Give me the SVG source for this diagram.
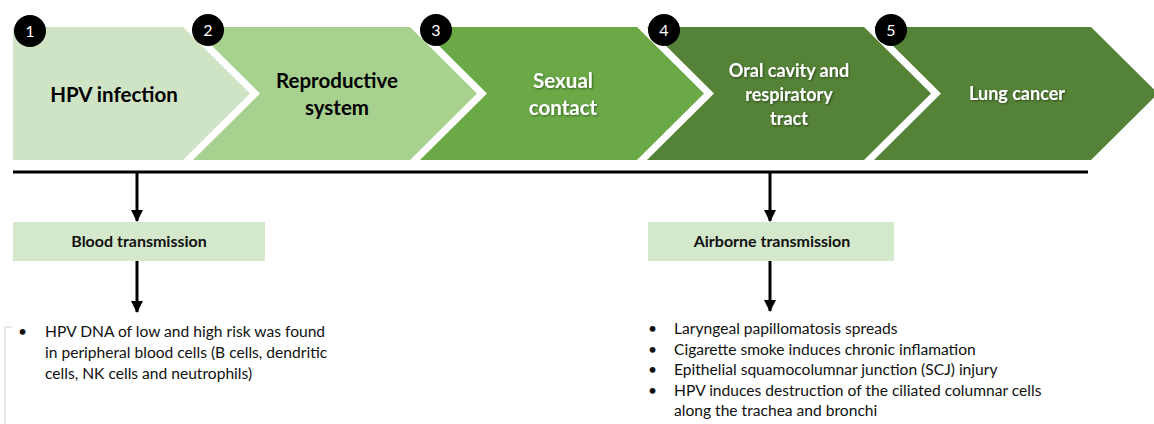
<svg xmlns="http://www.w3.org/2000/svg" width="1154" height="424" viewBox="0 0 1154 424">
<defs>
<marker id="ah" viewBox="0 0 12 12" refX="11" refY="6" markerWidth="12" markerHeight="12" markerUnits="userSpaceOnUse" orient="auto">
<path d="M0,0 L12,6 L0,12 Z" fill="#000"/>
</marker>
<filter id="sh" x="-10%" y="-20%" width="130%" height="150%">
<feDropShadow dx="1" dy="1" stdDeviation="0.8" flood-color="#000" flood-opacity="0.45"/>
</filter>
</defs>
<style>
.lbl{font-family:Lato,"Open Sans","Liberation Sans",sans-serif;font-weight:bold;text-anchor:middle}
.dk{fill:#000}
.wt{fill:#fff;filter:url(#sh)}
.num{font-family:Lato,"Open Sans","Liberation Sans",sans-serif;font-size:16px;fill:#fff;text-anchor:middle}
.box{fill:#d4e8cb}
.btxt{font-family:Lato,"Open Sans","Liberation Sans",sans-serif;font-size:16px;font-weight:bold;fill:#111;text-anchor:middle}
.body{font-family:Lato,"Open Sans","Liberation Sans",sans-serif;font-size:15.6px;fill:#111}
.conn{stroke:#000;stroke-width:3;fill:none}
</style>
<rect width="1154" height="424" fill="#fff"/>
<path d="M5,425 L5,327 L12,327" fill="none" stroke="#e8e8e8" stroke-width="2"/>

<g id="step1">
<path d="M13,27 L183,27 L250,93.5 L183,160 L13,160 Z" fill="#cfe4c4"/>
<text class="lbl dk" x="114" y="102" font-size="20.5">HPV infection</text>
<circle cx="30" cy="31" r="16" fill="#000"/>
<text class="num" x="30" y="37">1</text>
</g>
<g id="step2">
<path d="M193,27 L410,27 L477,93.5 L410,160 L193,160 L260,93.5 Z" fill="#a8d18f"/>
<text class="lbl dk" x="337" y="88" font-size="20.5">Reproductive</text>
<text class="lbl dk" x="337" y="115" font-size="20.5">system</text>
<circle cx="208" cy="30" r="16" fill="#000"/>
<text class="num" x="208" y="36">2</text>
</g>
<g id="step3">
<path d="M420,27 L637,27 L704,93.5 L637,160 L420,160 L487,93.5 Z" fill="#6aa946"/>
<text class="lbl wt" x="563" y="88" font-size="20.5">Sexual</text>
<text class="lbl wt" x="563" y="115" font-size="20.5">contact</text>
<circle cx="436" cy="30" r="16" fill="#000"/>
<text class="num" x="436" y="36">3</text>
</g>
<g id="step4">
<path d="M647,27 L864,27 L931,93.5 L864,160 L647,160 L714,93.5 Z" fill="#548236"/>
<text class="lbl wt" x="789" y="77" font-size="18">Oral cavity and</text>
<text class="lbl wt" x="789" y="101" font-size="18">respiratory</text>
<text class="lbl wt" x="789" y="125" font-size="18">tract</text>
<circle cx="664" cy="30" r="16" fill="#000"/>
<text class="num" x="664" y="36">4</text>
</g>
<g id="step5">
<path d="M874,27 L1091,27 L1158,93.5 L1091,160 L874,160 L941,93.5 Z" fill="#548236"/>
<text class="lbl wt" x="1017" y="100" font-size="18">Lung cancer</text>
<circle cx="891" cy="30" r="16" fill="#000"/>
<text class="num" x="891" y="36">5</text>
</g>

<g id="connectors">
<line class="conn" x1="13" y1="172" x2="1088" y2="172"/>
<line class="conn" x1="137" y1="172" x2="137" y2="221" marker-end="url(#ah)"/>
<line class="conn" x1="137" y1="261" x2="137" y2="312" marker-end="url(#ah)"/>
<line class="conn" x1="770" y1="172" x2="770" y2="221" marker-end="url(#ah)"/>
<line class="conn" x1="770" y1="261" x2="770" y2="311" marker-end="url(#ah)"/>
</g>

<g id="blood">
<rect class="box" x="13" y="222" width="252" height="39"/>
<text class="btxt" x="139" y="247">Blood transmission</text>
</g>
<g id="airborne">
<rect class="box" x="648" y="222" width="246" height="39"/>
<text class="btxt" x="772" y="247">Airborne transmission</text>
</g>

<g id="blood-notes">
<text class="body" x="18" y="337">•</text>
<text class="body" x="45" y="337">HPV DNA of low and high risk was found</text>
<text class="body" x="45" y="358">in peripheral blood cells (B cells, dendritic</text>
<text class="body" x="45" y="379">cells, NK cells and neutrophils)</text>
</g>
<g id="airborne-notes">
<text class="body" x="648" y="334">•</text>
<text class="body" x="674" y="334">Laryngeal papillomatosis spreads</text>
<text class="body" x="648" y="355">•</text>
<text class="body" x="674" y="355">Cigarette smoke induces chronic inflamation</text>
<text class="body" x="648" y="375">•</text>
<text class="body" x="674" y="375">Epithelial squamocolumnar junction (SCJ) injury</text>
<text class="body" x="648" y="396">•</text>
<text class="body" x="674" y="396">HPV induces destruction of the ciliated columnar cells</text>
<text class="body" x="674" y="416">along the trachea and bronchi</text>
</g>
</svg>
